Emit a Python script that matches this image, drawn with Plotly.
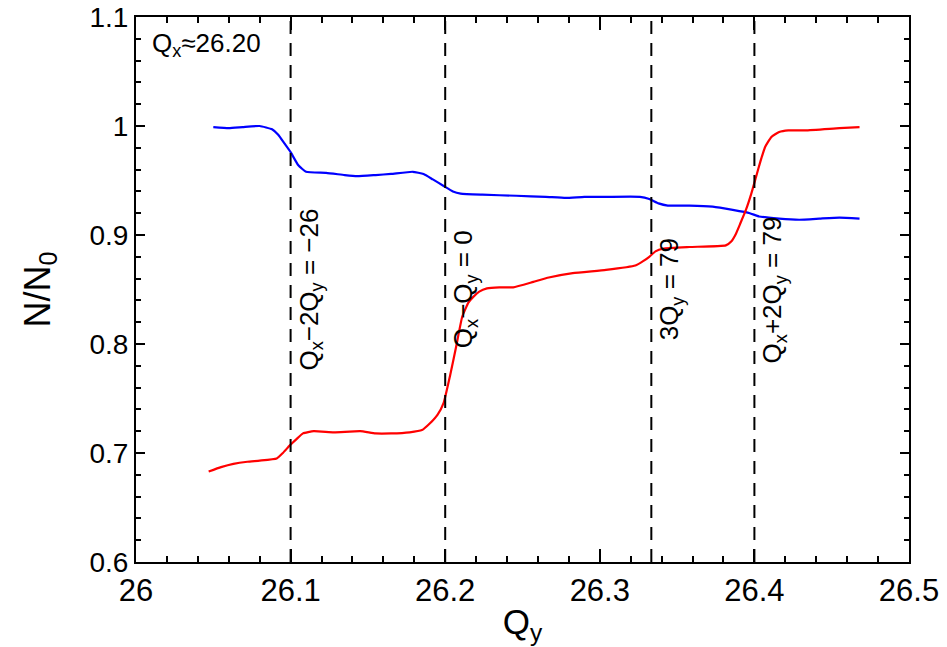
import plotly.graph_objects as go

# Tune scan: surviving fraction N/N0 versus vertical tune Qy at fixed Qx
qx = 26.20

# Blue curve
qy_blue = [26.050, 26.060, 26.069, 26.080, 26.088, 26.092, 26.096, 26.100, 26.105, 26.110,
           26.123, 26.135, 26.143, 26.155, 26.165, 26.179, 26.186, 26.192, 26.199, 26.205,
           26.210, 26.224, 26.246, 26.265, 26.278, 26.290, 26.304, 26.326, 26.332, 26.338,
           26.344, 26.358, 26.373, 26.386, 26.397, 26.403, 26.416, 26.429, 26.442, 26.455,
           26.468]
n_blue = [0.999, 0.998, 0.999, 1.000, 0.997, 0.992, 0.984, 0.976, 0.964, 0.958,
          0.957, 0.955, 0.954, 0.955, 0.956, 0.958, 0.956, 0.951, 0.945, 0.940,
          0.938, 0.937, 0.936, 0.935, 0.934, 0.935, 0.935, 0.935, 0.933, 0.929,
          0.927, 0.927, 0.926, 0.923, 0.920, 0.917, 0.915, 0.914, 0.915, 0.916,
          0.915]

# Red curve
qy_red = [26.047, 26.055, 26.063, 26.072, 26.080, 26.091, 26.095, 26.0995, 26.104, 26.108,
          26.115, 26.128, 26.145, 26.155, 26.165, 26.177, 26.185, 26.190, 26.195, 26.199,
          26.203, 26.207, 26.211, 26.215, 26.218, 26.222, 26.227, 26.235, 26.244, 26.257,
          26.267, 26.2825, 26.304, 26.323, 26.328, 26.332, 26.336, 26.341, 26.358, 26.3815,
          26.385, 26.388, 26.391, 26.3945, 26.398, 26.401, 26.404, 26.407, 26.411, 26.416,
          26.422, 26.433, 26.455, 26.468]
n_red = [0.683, 0.687, 0.690, 0.692, 0.693, 0.695, 0.700, 0.707, 0.713, 0.718,
         0.720, 0.719, 0.720, 0.718, 0.718, 0.719, 0.721, 0.727, 0.735, 0.746,
         0.770, 0.797, 0.825, 0.838, 0.843, 0.848, 0.851, 0.852, 0.852, 0.857,
         0.861, 0.865, 0.868, 0.872, 0.876, 0.880, 0.885, 0.8875, 0.889, 0.8905,
         0.894, 0.901, 0.911, 0.923, 0.938, 0.953, 0.968, 0.981, 0.990, 0.9945,
         0.996, 0.996, 0.998, 0.999]

# Resonance lines crossed by the scan and their labels
resonance_qy = [(qx + 26) / 2, qx, 79 / 3, (79 - qx) / 2]
resonance_labels = ["Q<sub>x</sub>\u22122Q<sub>y</sub> = \u221226",
                    "Q<sub>x</sub>\u2212Q<sub>y</sub> = 0",
                    "3Q<sub>y</sub> = 79",
                    "Q<sub>x</sub>+2Q<sub>y</sub> = 79"]

FONT = "Liberation Sans, Arial, Helvetica, sans-serif"

fig = go.Figure()
fig.add_trace(go.Scatter(x=qy_blue, y=n_blue, mode="lines",
                         line=dict(color="#0000ff", width=2.2, shape="spline", smoothing=0.4),
                         showlegend=False))
fig.add_trace(go.Scatter(x=qy_red, y=n_red, mode="lines",
                         line=dict(color="#ff0000", width=2.2, shape="spline", smoothing=0.4),
                         showlegend=False))

for q, lab in zip(resonance_qy, resonance_labels):
    fig.add_shape(type="line", xref="x", yref="paper", x0=q, x1=q, y0=0, y1=1,
                  line=dict(color="black", width=2, dash="13px,9px"), layer="above")
    fig.add_annotation(x=q, y=0.85, xref="x", yref="y", text=lab, textangle=-90,
                       showarrow=False, xanchor="left", yanchor="middle", xshift=1,
                       font=dict(family=FONT, size=26, color="black"))

fig.add_annotation(x=0.018, y=0.949, xref="paper", yref="paper",
                   text="Q<sub>x</sub>\u224826.20", showarrow=False,
                   xanchor="left", yanchor="middle",
                   font=dict(family=FONT, size=26, color="black"))

axis_common = dict(showline=True, linecolor="black", linewidth=2, mirror="allticks",
                   ticks="inside", tickcolor="black", tickwidth=2,
                   showgrid=False, zeroline=False)

fig.update_xaxes(range=[26, 26.5], dtick=0.1, tick0=26, ticklen=13,
                 tickfont=dict(family=FONT, size=31, color="black"),
                 minor=dict(ticks="inside", dtick=0.02, ticklen=6, tickcolor="black",
                            tickwidth=1.5, showgrid=False),
                 title=dict(text="Q<sub>y</sub>", standoff=2,
                            font=dict(family=FONT, size=35, color="black")),
                 **axis_common)
fig.update_yaxes(range=[0.6, 1.1], dtick=0.1, tick0=0.6, ticklen=9,
                 tickfont=dict(family=FONT, size=28, color="black"),
                 minor=dict(ticks="inside", dtick=0.02, ticklen=5, tickcolor="black",
                            tickwidth=1.5, showgrid=False),
                 title=dict(text="N/N<sub>0</sub>", standoff=28,
                            font=dict(family=FONT, size=36, color="black")),
                 **axis_common)

fig.update_layout(width=947, height=647,
                  margin=dict(l=136, r=38, t=17, b=85, autoexpand=False),
                  plot_bgcolor="white", paper_bgcolor="white",
                  font=dict(family=FONT, color="black"))

fig.write_html("out.html")
